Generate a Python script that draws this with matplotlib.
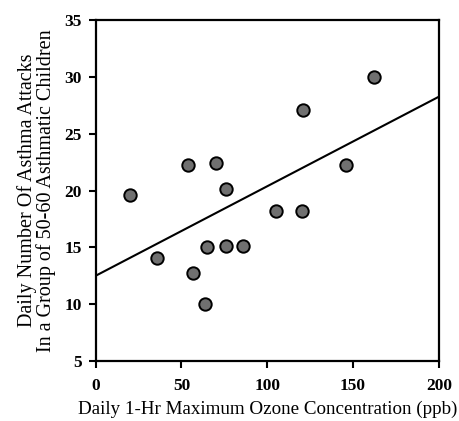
import matplotlib
matplotlib.use("Agg")
import matplotlib.pyplot as plt

ozone = [20, 36, 54, 57, 64, 65, 70, 76, 76, 86, 105, 120, 121, 146, 162]
attacks = [19.6, 14.1, 22.2, 12.7, 10.0, 15.0, 22.4, 20.1, 15.1, 15.1, 18.2, 18.2, 27.1, 22.2, 30.0]
fit_x = [0, 200]
fit_y = [12.5, 28.25]
xticks = [0, 50, 100, 150, 200]
yticks = [5, 10, 15, 20, 25, 30, 35]

plt.rcParams['font.family'] = ['Liberation Serif', 'DejaVu Serif']

fig = plt.figure(figsize=(4.6, 4.21), dpi=100)
ax = fig.add_axes([0.208, 0.1425, 0.746, 0.81])
ax.plot(fit_x, fit_y, color='black', lw=1.5, zorder=2)
ax.scatter(ozone, attacks, s=80, color='#707070', edgecolor='black', linewidth=1.4, zorder=3)
ax.set_xlim(0, 200)
ax.set_ylim(5, 35)
ax.set_xticks(xticks)
ax.set_xticklabels([str(t) for t in xticks], fontsize=12.5, fontweight='bold')
ax.set_yticks(yticks)
ax.set_yticklabels([str(t) for t in yticks], fontsize=12.5, fontweight='bold')
for s in ax.spines.values():
    s.set_linewidth(1.6)
ax.tick_params(axis='x', direction='out', length=5, width=1.5, pad=7)
ax.tick_params(axis='y', direction='out', length=5, width=1.5, pad=5)
ax.set_xlabel('Daily 1-Hr Maximum Ozone Concentration (ppb)', fontsize=13.7, labelpad=5)
ax.set_ylabel('Daily Number Of Asthma Attacks\nIn a Group of 50-60 Asthmatic Children', fontsize=14.5, labelpad=6, linespacing=0.95)
fig.savefig('out.png', dpi=100)
